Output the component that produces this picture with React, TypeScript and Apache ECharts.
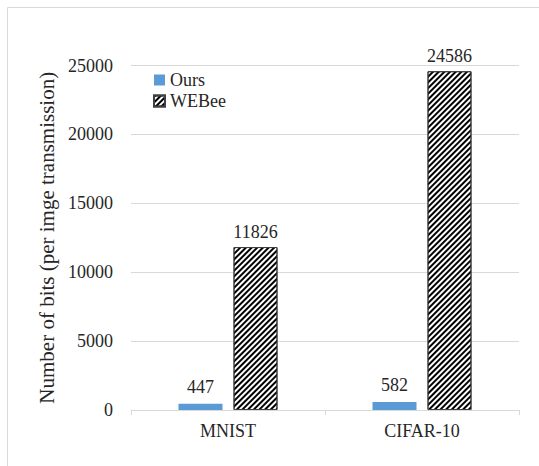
import React, { useEffect, useRef } from "react";
import * as echarts from "echarts";

const categories = ["MNIST", "CIFAR-10"];
const oursValues = [447, 582];
const webeeValues = [11826, 24586];
const seriesNames = ["Ours", "WEBee"];
const yAxisTitle = "Number of bits (per imge transmission)";

const FONT = "Liberation Serif";
const TEXT = "#262626";

export default function App() {
  const ref = useRef<HTMLDivElement>(null);
  useEffect(() => {
    if (!ref.current) return;
    const chart = echarts.init(ref.current, undefined, { renderer: "svg" });
    chart.setOption({
      animation: false,
      backgroundColor: "#fff",
      textStyle: { fontFamily: FONT },
      graphic: [
        {
          type: "rect",
          shape: { x: 7.5, y: 7.5, width: 700, height: 700 },
          style: { fill: "none", stroke: "#d9d9d9", lineWidth: 1 },
          silent: true,
        },
      ],
      legend: {
        orient: "vertical",
        left: 148,
        top: 66,
        icon: "rect",
        itemWidth: 11,
        itemHeight: 11,
        itemGap: 3,
        textStyle: { fontFamily: FONT, fontSize: 18, color: TEXT },
        data: seriesNames,
      },
      grid: { left: 131, right: 20, top: 65.5, bottom: 56, containLabel: false },
      xAxis: {
        type: "category",
        data: categories,
        axisLine: { lineStyle: { color: "#d9d9d9" } },
        axisTick: { show: true, length: 5, lineStyle: { color: "#d9d9d9" } },
        axisLabel: { fontFamily: FONT, fontSize: 18, color: TEXT, margin: 12 },
      },
      yAxis: {
        type: "value",
        min: 0,
        max: 25000,
        interval: 5000,
        name: yAxisTitle,
        nameLocation: "middle",
        nameGap: 69,
        nameTextStyle: { fontFamily: FONT, fontSize: 21, color: TEXT },
        axisLine: { show: false },
        axisTick: { show: false },
        axisLabel: {
          fontFamily: FONT,
          fontSize: 18,
          color: TEXT,
          margin: 18,
          formatter: (v: number) => String(v),
        },
        splitLine: { lineStyle: { color: "#d9d9d9" } },
      },
      series: [
        {
          name: seriesNames[0],
          type: "bar",
          data: oursValues,
          barWidth: 44,
          barGap: "25%",
          itemStyle: { color: "#5b9bd5" },
          label: {
            show: true,
            position: "top",
            distance: 8,
            fontFamily: FONT,
            fontSize: 18,
            color: TEXT,
          },
        },
        {
          name: seriesNames[1],
          type: "bar",
          data: webeeValues,
          barWidth: 44,
          barGap: "25%",
          itemStyle: {
            color: "#ffffff",
            borderColor: "#404040",
            borderWidth: 1,
            decal: {
              symbol: "rect",
              symbolSize: 1,
              color: "#000000",
              dashArrayX: [1, 0],
              dashArrayY: [2, 1.6],
              rotation: -Math.PI / 4,
            },
          },
          label: {
            show: true,
            position: "top",
            distance: 6,
            fontFamily: FONT,
            fontSize: 18,
            color: TEXT,
          },
        },
      ],
    });
    return () => chart.dispose();
  }, []);
  return (
    <div
      ref={ref}
      style={{ position: "fixed", left: 0, top: 0, width: 539, height: 466 }}
    />
  );
}
